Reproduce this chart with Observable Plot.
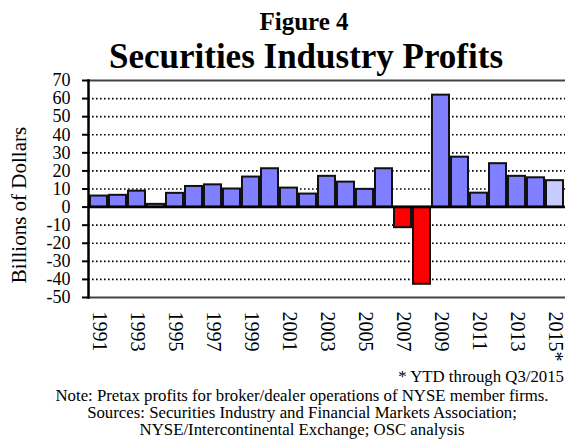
<!DOCTYPE html>
<html>
<head>
<meta charset="utf-8">
<script src="https://cdn.jsdelivr.net/npm/d3@7"></script>
<script src="https://cdn.jsdelivr.net/npm/@observablehq/plot@0.6"></script>
<style>
  html, body { margin: 0; padding: 0; background: #fff; }
  #wrap { position: relative; width: 565px; height: 448px; overflow: hidden; font-family: "Liberation Serif", "Times New Roman", serif; color: #000; }
  .t1 { position: absolute; left: 0; width: 608px; top: 7px; text-align: center; font-weight: bold; font-size: 25px; line-height: 30px; }
  .t2 { position: absolute; left: 0; width: 612px; top: 37px; text-align: center; font-weight: bold; font-size: 35px; line-height: 40px; }
  #chart { position: absolute; left: 0; top: 70px; }
  .ylab { position: absolute; left: 19px; top: 205px; font-size: 21px; white-space: nowrap; transform: translate(-50%, -50%) rotate(-90deg); }
  .foot { position: absolute; font-size: 16.8px; line-height: 17px; white-space: nowrap; }
  .c { left: 0; width: 604px; text-align: center; }
</style>
</head>
<body>
<div id="wrap">
  <div class="t1">Figure 4</div>
  <div class="t2">Securities Industry Profits</div>
  <div class="ylab">Billions of Dollars</div>
  <div id="chart"></div>
  <div class="foot" style="right:1px; top:368px;">* YTD through Q3/2015</div>
  <div class="foot c" style="top:387px;">Note: Pretax profits for broker/dealer operations of NYSE member firms.</div>
  <div class="foot c" style="top:404px;">Sources: Securities Industry and Financial Markets Association;</div>
  <div class="foot c" style="top:421px;">NYSE/Intercontinental Exchange; OSC analysis</div>
</div>
<script>
const years = ["1991","1992","1993","1994","1995","1996","1997","1998","1999","2000",
  "2001","2002","2003","2004","2005","2006","2007","2008","2009","2010",
  "2011","2012","2013","2014","2015"];
const profits = [6.1, 6.5, 8.8, 1.5, 7.6, 11.4, 12.3, 10.0, 16.6, 21.2,
  10.5, 7.2, 17.0, 13.8, 9.8, 21.2, -11.4, -42.7, 61.9, 27.6,
  7.7, 24.0, 17.0, 16.2, 14.6];
const yTicks = [-50, -40, -30, -20, -10, 0, 10, 20, 30, 40, 50, 60, 70];
const xTickYears = ["1991","1993","1995","1997","1999","2001","2003","2005","2007","2009","2011","2013","2015"];

const data = years.map((y, i) => ({year: y, value: profits[i]}));
const fillOf = d => d.value < 0 ? "#ff0000" : (d.year === "2015" ? "#c6ccff" : "#7f7fff");

const chart = Plot.plot({
  width: 565,
  height: 300,
  marginLeft: 88,
  marginRight: 0,
  marginTop: 10,
  marginBottom: 73,
  style: {fontFamily: "'Liberation Serif', 'Times New Roman', serif", background: "transparent", overflow: "visible"},
  x: {domain: years, padding: 0.1},
  y: {domain: [-50, 70]},
  marks: [
    Plot.gridY(yTicks.filter(t => t !== 0 && t !== 70 && t !== -50), {stroke: "#000", strokeOpacity: 1, strokeWidth: 1.6, strokeDasharray: "1.6,2.4"}),
    Plot.ruleY([70, -50], {stroke: "#444", strokeWidth: 1.8}),
    Plot.barY(data, {x: "year", y: "value", fill: fillOf, stroke: "#111", strokeWidth: 2}),
    Plot.ruleY([0], {stroke: "#000", strokeWidth: 2.5}),
    Plot.axisY({ticks: yTicks, tickSize: 6, tickPadding: 12, fontSize: 18, stroke: "#000", strokeWidth: 2, label: null, tickFormat: d => String(d)}),
    Plot.axisX({ticks: xTickYears, tickSize: 0, tickPadding: 14, tickRotate: 90, fontSize: 20, label: null,
      tickFormat: d => d === "2015" ? "2015*" : d}),
    Plot.frame({anchor: "left", stroke: "#000", strokeWidth: 2.5})
  ]
});
document.getElementById("chart").appendChild(chart);
</script>
</body>
</html>
